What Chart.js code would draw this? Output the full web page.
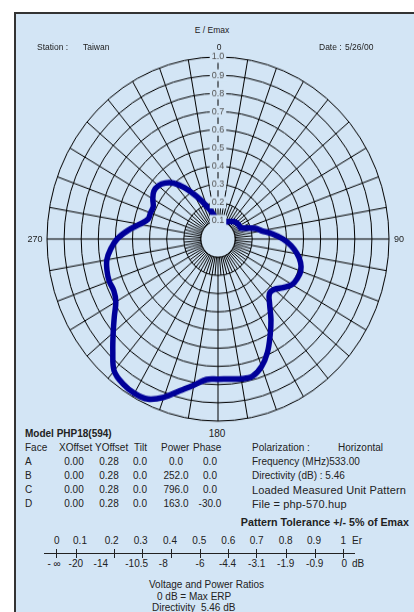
<!DOCTYPE html>
<html>
<head>
<meta charset="utf-8">
<script src="https://cdn.jsdelivr.net/npm/chart.js@4.4.1/dist/chart.umd.min.js"></script>
<style>
  body { margin: 0; width: 414px; height: 612px; overflow: hidden; background: #fff;
         font-family: "Liberation Sans", Arial, sans-serif; color: #222; }
  #panel { position: absolute; left: 14px; top: 12px; width: 420px; height: 620px;
           background: #d3e5f5; border-left: 2px solid #333; border-top: 2px solid #333; }
  #polar { position: absolute; left: 42px; top: 63px; width: 353px; height: 353px;
           transform: scaleY(1.0647); transform-origin: 50% 176px; }
  .t { position: absolute; white-space: pre; font-size: 9px; line-height: 1; }
  .h { font-size: 8.5px; }
  .m { font-size: 10px; }
  .w { font-size: 11px; letter-spacing: 0.15px; }
  .b { font-weight: bold; font-size: 10px; }
  .bt { font-weight: bold; font-size: 10.7px; }
  .bar { position: absolute; background: #222; }
</style>
</head>
<body>
<div id="panel"></div>
<div id="polar"><canvas id="chart" width="353" height="353"></canvas></div>
<script>
// pattern, E/Emax by azimuth (degrees)
const angles = [0, 5, 10, 15, 20, 25, 30, 35, 40, 45, 50, 55, 60, 65, 70, 75, 80, 85,
  90, 95, 100, 105, 110, 115, 120, 125, 130, 135, 140, 145, 150, 155, 160, 165, 170, 175,
  180, 185, 190, 195, 200, 205, 210, 215, 220, 225, 230, 235, 240, 245, 250, 255, 260, 265,
  270, 275, 280, 285, 290, 295, 300, 305, 310, 315, 320, 325, 330, 335, 340, 345, 350, 355];
const levels = [0.10, 0.10, 0.10, 0.10, 0.10, 0.105, 0.11, 0.117, 0.125, 0.135, 0.14, 0.143,
  0.145, 0.145, 0.175, 0.225, 0.26, 0.32, 0.38, 0.43, 0.47, 0.50, 0.515, 0.512,
  0.50, 0.465, 0.43, 0.425, 0.47, 0.54, 0.61, 0.685, 0.745, 0.78, 0.78, 0.772,
  0.77, 0.775, 0.815, 0.863, 0.925, 0.97, 0.978, 0.97, 0.945, 0.87, 0.80, 0.74,
  0.69, 0.672, 0.677, 0.672, 0.66, 0.63, 0.59, 0.53, 0.465, 0.423, 0.42, 0.418,
  0.44, 0.458, 0.455, 0.435, 0.40, 0.345, 0.285, 0.235, 0.19, 0.16, 0.13, 0.11];

// face table
const faces = ["A", "B", "C", "D"];
const xOffsets = ["0.00", "0.00", "0.00", "0.00"];
const yOffsets = ["0.28", "0.28", "0.28", "0.28"];
const tilts = ["0.0", "0.0", "0.0", "0.0"];
const powers = ["0.0", "252.0", "796.0", "163.0"];
const phases = ["0.0", "0.0", "0.0", "-30.0"];

// ratio scale bar
const erTicks = ["0", "0.1", "0.2", "0.3", "0.4", "0.5", "0.6", "0.7", "0.8", "0.9", "1"];
const dbTicks = ["- \u221e", "-20", "-14", "-10.5", "-8", "-6", "-4.4", "-3.1", "-1.9", "-0.9", "0"];

const bg = "#d3e5f5";

function put(text, x, y, align, cls) {
  const el = document.createElement("div");
  el.className = "t " + (cls || "");
  el.textContent = text;
  el.style.left = x + "px";
  el.style.top = y + "px";
  const tx = align === "c" ? "-50%" : align === "r" ? "-100%" : "0";
  el.style.transform = "translate(" + tx + ", -50%)";
  document.body.appendChild(el);
}

// header
put("E / Emax", 212, 30, "c", "h");
put("Station :", 37, 47, "l", "h");
put("Taiwan", 83, 47, "l", "h");
put("0", 219, 47, "c", "h");
put("Date :", 319, 47, "l", "h");
put("5/26/00", 345, 47, "l", "h");
put("270", 35, 239, "c");
put("90", 399, 239, "c");
put("180", 217, 434, "c", "m");

// table
put("Model PHP18(594)", 25, 434, "l", "b");
const rowY = 448;
put("Face", 25, rowY, "l", "m");
put("XOffset", 59, rowY, "l", "m");
put("YOffset", 95, rowY, "l", "m");
put("Tilt", 134, rowY, "l", "m");
put("Power", 161, rowY, "l", "m");
put("Phase", 193, rowY, "l", "m");
put("Polarization :", 252, rowY, "l", "m");
put("Horizontal", 338, rowY, "l", "m");
faces.forEach((f, i) => {
  const y = rowY + 14 * (i + 1);
  put(f, 25, y, "l", "m");
  put(xOffsets[i], 74, y, "c", "m");
  put(yOffsets[i], 109, y, "c", "m");
  put(tilts[i], 140, y, "c", "m");
  put(powers[i], 176, y, "c", "m");
  put(phases[i], 210, y, "c", "m");
});
put("Frequency (MHz)533.00", 252, 462, "l", "m");
put("Directivity (dB) : 5.46", 252, 476, "l", "m");
put("Loaded Measured Unit Pattern", 252, 490, "l", "w");
put("File = php-570.hup", 252, 504, "l", "w");

put("Pattern Tolerance +/- 5% of Emax", 409, 522, "r", "bt");

// scale bar
const tickX = [56.7, 76, 114.3, 142.7, 171.7, 200, 228.3, 256.7, 286, 315, 343.3];
const erX = [56.7, 80, 111.7, 140.7, 170, 199.3, 228.3, 256.7, 285.7, 314, 343.3];
const dbX = [54, 75.8, 100.8, 136.7, 163.3, 200, 227.5, 256.7, 285.7, 314.7, 344.2];
function bar(x, y, w, h) {
  const el = document.createElement("div");
  el.className = "bar";
  el.style.left = x + "px"; el.style.top = y + "px";
  el.style.width = w + "px"; el.style.height = h + "px";
  document.body.appendChild(el);
}
bar(44, 553, 311, 1);
tickX.forEach((x) => bar(x - 0.5, 549, 1, 9));
erTicks.forEach((t, i) => put(t, erX[i], 541, "c", "m"));
dbTicks.forEach((t, i) => put(t, dbX[i], 564, "c", "m"));
put("Er", 352, 541, "l", "m");
put("dB", 352, 564, "l", "m");

put("Voltage and Power Ratios", 149, 585, "l", "m");
put("0 dB = Max ERP", 157, 597, "l", "m");
put("Directivity  5.46 dB", 152, 608, "l", "m");

// hole at the 0.1 ring plus short inner spokes
const innerPlugin = {
  id: "inner",
  beforeDatasetsDraw(chart) {
    const s = chart.scales.r;
    const ctx = chart.ctx;
    ctx.save();
    ctx.strokeStyle = "#000";
    ctx.lineWidth = 1;
    for (let i = 1; i < angles.length; i += 2) {
      const a = s.getPointPositionForValue(i, 0.1);
      const b = s.getPointPositionForValue(i, 0.2);
      ctx.beginPath();
      ctx.moveTo(a.x, a.y);
      ctx.lineTo(b.x, b.y);
      ctx.stroke();
    }
    ctx.beginPath();
    ctx.arc(s.xCenter, s.yCenter, s.getDistanceFromCenterForValue(0.1), 0, 2 * Math.PI);
    ctx.fillStyle = bg;
    ctx.fill();
    ctx.stroke();
    ctx.restore();
  },
};

Chart.defaults.font.family = "'Liberation Sans', Arial, sans-serif";

new Chart(document.getElementById("chart"), {
  type: "radar",
  data: {
    labels: angles.map(String),
    datasets: [
      {
        data: levels,
        borderColor: "#000099",
        borderWidth: 5.5,
        borderJoinStyle: "round",
        borderCapStyle: "round",
        pointRadius: 0,
        fill: false,
        tension: 0.35,
      },
    ],
  },
  options: {
    responsive: false,
    animation: false,
    layout: { padding: 0 },
    plugins: { legend: { display: false }, tooltip: { enabled: false } },
    scales: {
      r: {
        min: 0,
        max: 1,
        ticks: {
          stepSize: 0.1,
          z: 1,
          color: "#555",
          font: { size: 9 },
          backdropColor: bg,
          backdropPadding: { x: 2, y: 1 },
          callback: (v) => v.toFixed(1),
        },
        grid: { circular: true, color: "#000", lineWidth: 1 },
        angleLines: {
          color: (ctx) => (ctx.index % 2 === 0 ? "#000" : "rgba(0,0,0,0)"),
          lineWidth: 1,
        },
        pointLabels: { display: false },
      },
    },
  },
  plugins: [innerPlugin],
});
</script>
</body>
</html>
